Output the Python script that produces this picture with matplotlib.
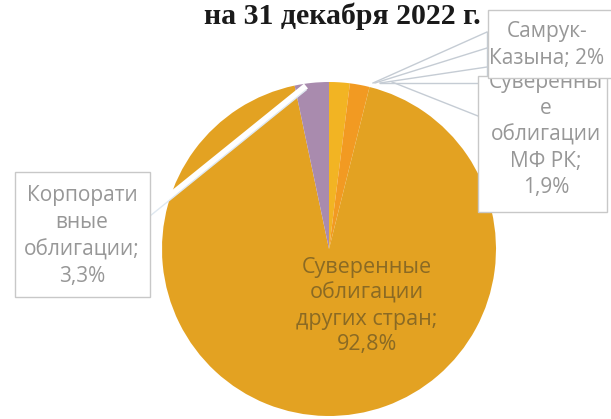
import matplotlib
matplotlib.use("Agg")
import matplotlib.pyplot as plt
from matplotlib.patches import Rectangle

# Portfolio structure data
labels = [
    "Самрук-\nКазына; 2%",
    "Суверенны\nе\nоблигации\nМФ РК;\n1,9%",
    "Суверенные\nоблигации\nдругих стран;\n92,8%",
    "Корпорати\nвные\nоблигации;\n3,3%",
]
shares = [2.0, 1.9, 92.8, 3.3]
colors = ["#F2B423", "#F29A22", "#E3A222", "#A98BAE"]
title = "на 31 декабря 2022 г."

W, H = 611, 419
fig = plt.figure(figsize=(W / 100, H / 100), dpi=100)
ax = fig.add_axes([0, 0, 1, 1])


def Y(y):
    # pixel row (from top) -> data y
    return H - y


cx, cy, r = 329, 249, 167
ax.pie(shares, colors=colors, startangle=90, counterclock=False,
       center=(cx, Y(cy)), radius=r, frame=True,
       wedgeprops=dict(linewidth=0))
ax.set_xlim(0, W)
ax.set_ylim(0, H)
ax.set_aspect("equal")
ax.axis("off")

label_font = ["Open Sans", "DejaVu Sans"]
grey = "#979797"
line_col = "#c5ccd4"

# leader lines towards the small slices at the top right
for (x0, y0, x1, y1) in [(373, 83, 487, 32), (375, 83, 487, 48),
                         (380, 83, 487, 67), (380, 83, 487, 83),
                         (487, 32, 487, 83), (392, 82, 478, 116)]:
    ax.plot([x0, x1], [Y(y0), Y(y1)], color=line_col, lw=1, zorder=3)

# leader line of the corporate bonds slice
ax.plot([150, 306], [Y(212), Y(86)], color="white", lw=4.5,
        solid_capstyle="butt", zorder=3)
ax.plot([150, 306], [Y(216), Y(90)], color="#dfe8f0", lw=1, zorder=3)

# label boxes
boxes = [
    (478, 76, 607, 212),   # МФ РК
    (488, 10, 640, 78),    # Самрук-Казына
    (15, 172, 150, 297),   # corporate
]
for i, (x0, y0, x1, y1) in enumerate(boxes):
    ax.add_patch(Rectangle((x0, Y(y1)), x1 - x0, y1 - y0, facecolor="white",
                           edgecolor="#c8c8c8", lw=1, zorder=4 + i))

ax.text(546, Y(135), labels[1], ha="center", va="center", fontsize=15,
        color=grey, family=label_font, linespacing=1.33, zorder=4.5)
ax.text(547, Y(45), labels[0], ha="center", va="center", fontsize=15,
        color=grey, family=label_font, linespacing=1.33, zorder=5.5)
ax.text(82, Y(236), labels[3], ha="center", va="center", fontsize=15,
        color=grey, family=label_font, linespacing=1.36, zorder=6.5)

# label inside the large slice
ax.text(367, Y(306), labels[2], ha="center", va="center", fontsize=15.5,
        color="#8a6a24", family=label_font, linespacing=1.3, zorder=3)

# chart title
ax.text(342, Y(24), title, ha="center", va="baseline", fontsize=21.5,
        fontweight="bold", family=["Liberation Serif", "DejaVu Serif"],
        color="#1a1a1a", zorder=7)

fig.savefig("out.png", dpi=100, facecolor="white")
